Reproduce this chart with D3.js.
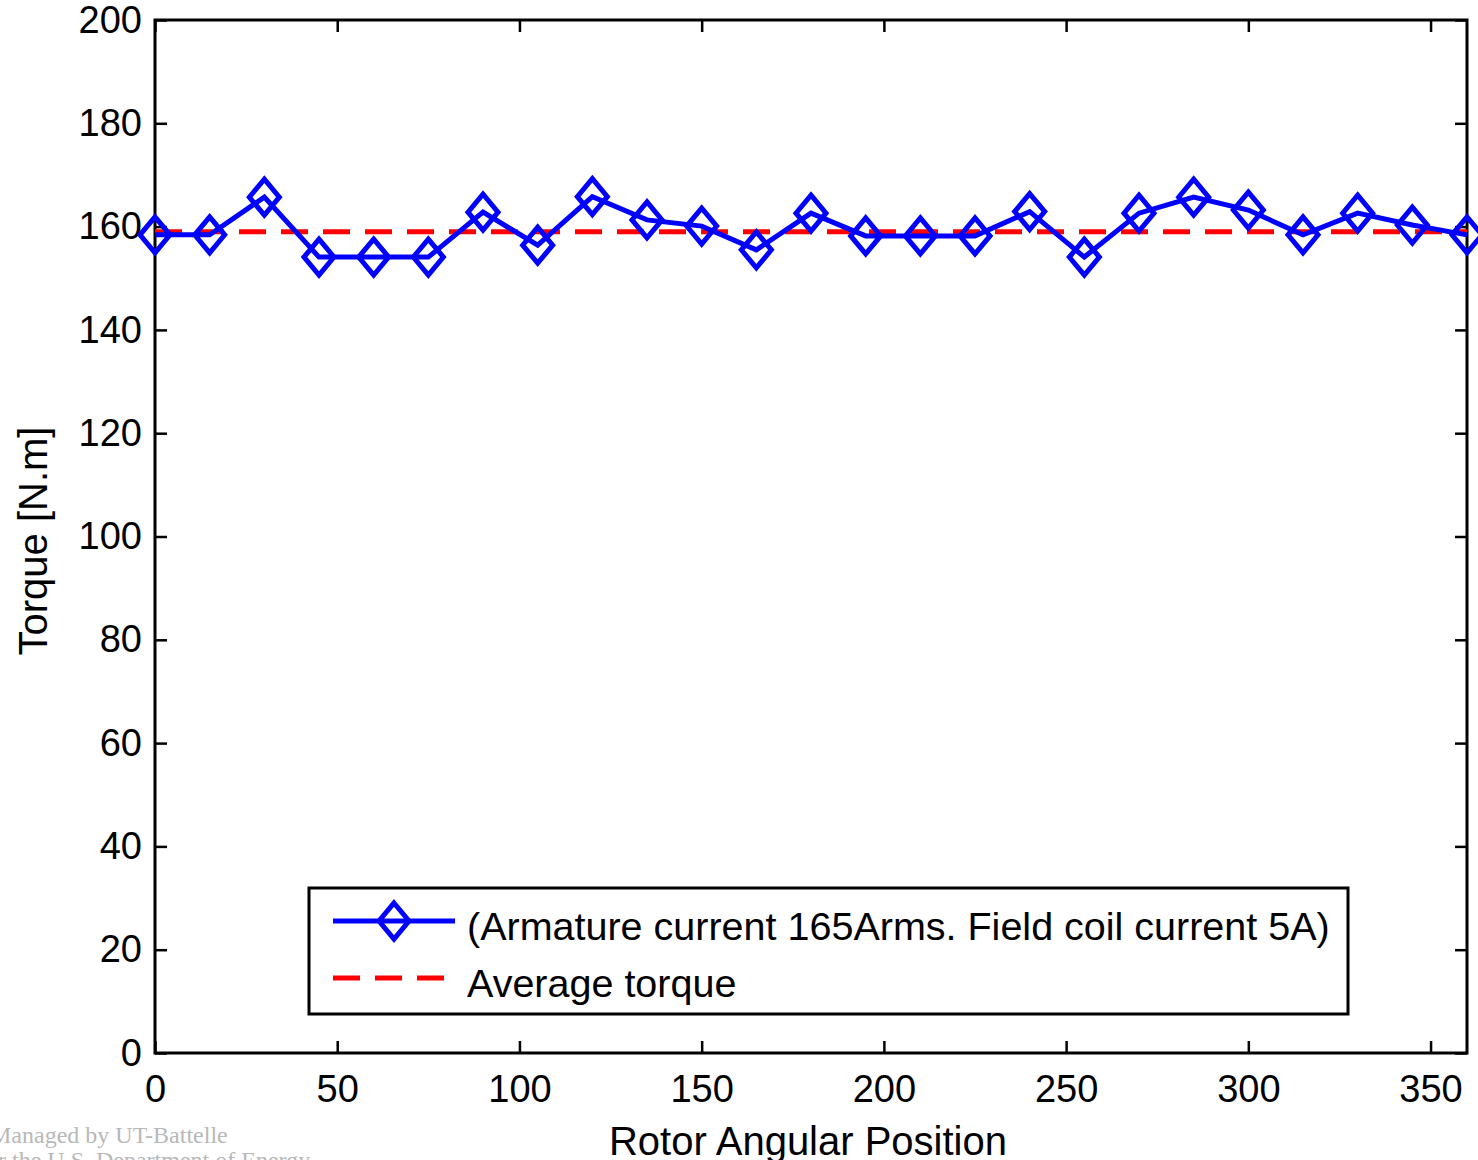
<!DOCTYPE html>
<html>
<head>
<meta charset="utf-8">
<script src="https://cdn.jsdelivr.net/npm/d3@7"></script>
<style>
  body { margin: 0; background: #fff; }
  svg text { font-family: Arial, "Liberation Sans", sans-serif; }
</style>
</head>
<body>
<svg id="chart" width="1478" height="1160"></svg>
<script>
// rotor angle (deg) and torque (N.m)
const angles = [0, 15, 30, 45, 60, 75, 90, 105, 120, 135, 150, 165, 180,
                195, 210, 225, 240, 255, 270, 285, 300, 315, 330, 345, 360];
const torque = [158.4, 158.4, 165.7, 154.1, 154.1, 154.1, 162.8, 156.4, 165.8, 161.3, 160.1, 155.5, 162.6,
                158.2, 158.2, 158.2, 162.9, 154.1, 162.6, 165.7, 163.2, 158.4, 162.6, 160.3, 158.4];
const avgTorque = 159;
const xTicks = [0, 50, 100, 150, 200, 250, 300, 350];
const yTicks = [0, 20, 40, 60, 80, 100, 120, 140, 160, 180, 200];
const legendLabels = ['(Armature current 165Arms. Field coil current 5A)', 'Average torque'];

const svg = d3.select('#chart');
const margin = { top: 20, right: 11, bottom: 107, left: 155 };
const width = +svg.attr('width') - margin.left - margin.right;
const height = +svg.attr('height') - margin.top - margin.bottom;

const g = svg.append('g').attr('transform', `translate(${margin.left},${margin.top})`);

const x = d3.scaleLinear().domain([0, 360]).range([0, width]);
const y = d3.scaleLinear().domain([0, 200]).range([height, 0]);

const data = angles.map((a, i) => ({ angle: a, torque: torque[i] }));

// axes with inward ticks, mirrored on top/right
const tickLen = 12;
const styleAxis = sel => {
  sel.select('.domain').remove();
  sel.selectAll('.tick line').attr('stroke', '#000').attr('stroke-width', 2.5);
  sel.selectAll('.tick text').attr('fill', '#000').style('font-size', '38px');
};

g.append('g')
  .attr('transform', `translate(0,${height})`)
  .call(d3.axisBottom(x).tickValues(xTicks).tickSize(-tickLen).tickPadding(22).tickFormat(d3.format('d')))
  .call(styleAxis)
  .call(s => s.selectAll('.tick text').attr('dy', '0.71em'));

g.append('g')
  .call(d3.axisTop(x).tickValues(xTicks).tickSize(-tickLen).tickFormat(''))
  .call(styleAxis);

g.append('g')
  .call(d3.axisLeft(y).tickValues(yTicks).tickSize(-tickLen).tickPadding(13).tickFormat(d3.format('d')))
  .call(styleAxis);

g.append('g')
  .attr('transform', `translate(${width},0)`)
  .call(d3.axisRight(y).tickValues(yTicks).tickSize(-tickLen).tickFormat(''))
  .call(styleAxis);

g.append('rect')
  .attr('width', width)
  .attr('height', height)
  .attr('fill', 'none')
  .attr('stroke', '#000')
  .attr('stroke-width', 3);

// average torque line
g.append('line')
  .attr('x1', x(0)).attr('x2', x(360))
  .attr('y1', y(avgTorque)).attr('y2', y(avgTorque))
  .attr('stroke', '#ff0000')
  .attr('stroke-width', 5)
  .attr('stroke-dasharray', '27,15');

// torque curve
const line = d3.line().x(d => x(d.angle)).y(d => y(d.torque));
g.append('path')
  .datum(data)
  .attr('fill', 'none')
  .attr('stroke', '#0000ff')
  .attr('stroke-width', 5)
  .attr('d', line);

const diamond = (cx, cy) => `M${cx},${cy - 18}L${cx + 15},${cy}L${cx},${cy + 18}L${cx - 15},${cy}Z`;

g.append('g').selectAll('path')
  .data(data)
  .join('path')
  .attr('d', d => diamond(x(d.angle), y(d.torque)))
  .attr('fill', 'none')
  .attr('stroke', '#0000ff')
  .attr('stroke-width', 5);

// axis titles
svg.append('text')
  .attr('x', 808)
  .attr('y', 1155)
  .attr('text-anchor', 'middle')
  .style('font-size', '40px')
  .text('Rotor Angular Position');

svg.append('text')
  .attr('transform', 'rotate(-90)')
  .attr('x', -541)
  .attr('y', 47)
  .attr('text-anchor', 'middle')
  .style('font-size', '40px')
  .text('Torque [N.m]');

// legend
const legend = svg.append('g').attr('transform', 'translate(309,888)');
legend.append('rect')
  .attr('width', 1039)
  .attr('height', 126)
  .attr('fill', '#fff')
  .attr('stroke', '#000')
  .attr('stroke-width', 3);

legend.append('line')
  .attr('x1', 24).attr('x2', 146)
  .attr('y1', 33).attr('y2', 33)
  .attr('stroke', '#0000ff')
  .attr('stroke-width', 5);
legend.append('path')
  .attr('d', diamond(85, 33))
  .attr('fill', 'none')
  .attr('stroke', '#0000ff')
  .attr('stroke-width', 5);

legend.append('line')
  .attr('x1', 24).attr('x2', 136)
  .attr('y1', 90).attr('y2', 90)
  .attr('stroke', '#ff0000')
  .attr('stroke-width', 5)
  .attr('stroke-dasharray', '27,15');

legend.selectAll('text.lbl')
  .data(legendLabels)
  .join('text')
  .attr('class', 'lbl')
  .attr('x', 158)
  .attr('y', (d, i) => 52 + i * 57)
  .style('font-size', '39.5px')
  .text(d => d);

// watermark
svg.append('g')
  .attr('fill', '#b8b8b8')
  .selectAll('text')
  .data(['Managed by UT-Battelle', 'for the U.S. Department of Energy'])
  .join('text')
  .attr('x', (d, i) => i === 0 ? -10 : -22)
  .attr('y', (d, i) => 1143 + i * 25)
  .style('font-family', '"Liberation Serif", "DejaVu Serif", serif')
  .style('font-size', '24px')
  .text(d => d);
</script>
</body>
</html>
